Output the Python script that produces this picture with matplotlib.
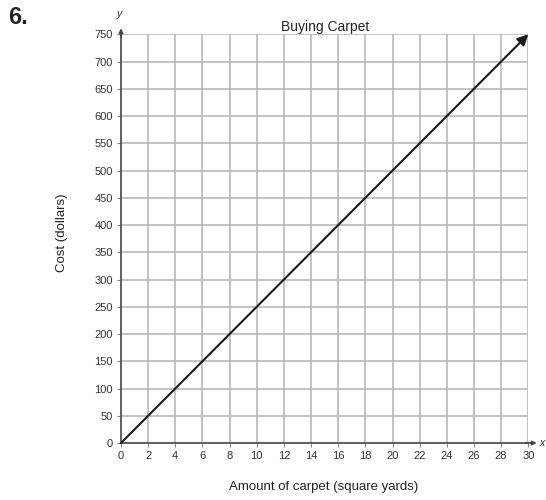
import matplotlib
matplotlib.use("Agg")
import matplotlib.pyplot as plt

plt.rcParams['font.family'] = ['Liberation Sans', 'DejaVu Sans']

# Cost of carpet: $25 per square yard
area_sq_yd = [0, 30]
cost_dollars = [0, 750]
x_ticks = list(range(0, 31, 2))
y_ticks = list(range(0, 751, 50))

fig = plt.figure(figsize=(5.46, 5.0), dpi=100)
ax = fig.add_axes([121 / 546, 1 - 443 / 500, (528.3 - 121) / 546, (443 - 34.3) / 500])

ax.set_xlim(0, 30)
ax.set_ylim(0, 750)
ax.set_xticks(x_ticks)
ax.set_yticks(y_ticks)
ax.grid(True, color='#b3b3b3', linewidth=1.1)
ax.set_axisbelow(True)
for side in ['top', 'right']:
    ax.spines[side].set_visible(False)
for side in ['left', 'bottom']:
    ax.spines[side].set_color('#555555')
    ax.spines[side].set_linewidth(1.3)
ax.tick_params(axis='both', length=3, width=0.8, color='#888888',
               labelsize=8, labelcolor='#333333', pad=3)

# Axis arrows just beyond the plotting area
ax.annotate('', xy=(30.62, 0), xytext=(29.8, 0), xycoords='data',
            arrowprops=dict(arrowstyle='-|>', color='#444444', lw=1.2,
                            mutation_scale=6, shrinkA=0, shrinkB=0),
            annotation_clip=False)
ax.annotate('', xy=(0, 761), xytext=(0, 745), xycoords='data',
            arrowprops=dict(arrowstyle='-|>', color='#444444', lw=1.2,
                            mutation_scale=6, shrinkA=0, shrinkB=0),
            annotation_clip=False)
ax.text(31.0, 0, 'x', fontsize=7.5, style='italic', va='center', ha='center', color='#333333')
ax.text(-0.1, 787, 'y', fontsize=7.5, style='italic', va='center', ha='center', color='#333333')

# Cost line with arrow head at the end
ax.annotate('', xy=(area_sq_yd[1], cost_dollars[1]), xytext=(area_sq_yd[0], cost_dollars[0]),
            arrowprops=dict(arrowstyle='-|>', color='#1a1a1a', lw=1.5,
                            mutation_scale=16, shrinkA=0, shrinkB=0),
            annotation_clip=False)

ax.set_title('Buying Carpet', fontsize=10, color='#222222', pad=2)
fig.text(62 / 546, 1 - 233 / 500, 'Cost (dollars)', rotation=90, fontsize=9.5,
         ha='center', va='center', color='#222222')
fig.text(324 / 546, 1 - 487 / 500, 'Amount of carpet (square yards)', fontsize=9.5,
         ha='center', va='center', color='#222222')
fig.text(8 / 546, 1 - 18 / 500, '6.', fontsize=17, fontweight='bold',
         ha='left', va='center', color='#222222')

fig.savefig('out.png', dpi=100)
